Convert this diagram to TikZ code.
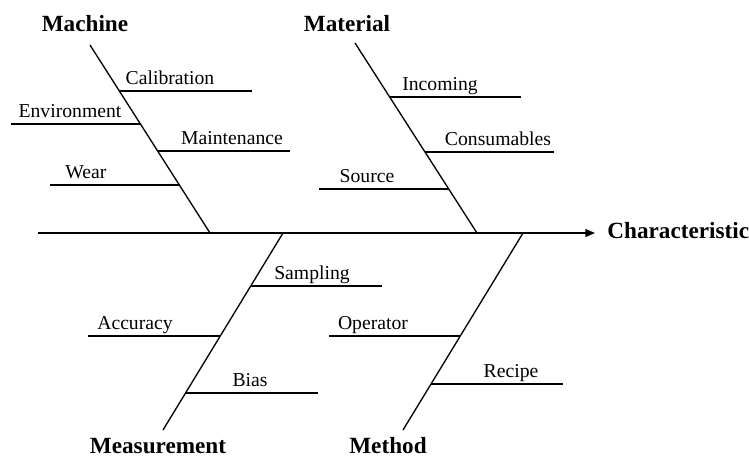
\documentclass[tikz,border=0pt]{standalone}
\usepackage{fontspec}
\setmainfont{Liberation Serif}
\usetikzlibrary{arrows.meta}
\begin{document}
\begin{tikzpicture}
        [x=0.2mm, y=-0.2mm,
        cause/.style={anchor=base, inner sep=0pt, font=\fontsize{11.2}{13}\selectfont},
        category/.style={anchor=base, inner sep=0pt, font=\fontsize{13.2}{15}\selectfont\bfseries},
        bone/.style={line width=0.75pt, black},
        rib/.style={line width=0.75pt, black},
        spine/.style={line width=0.75pt, black, -{Triangle[length=5.5pt, width=4.5pt]}}]

        \useasboundingbox (0,0) rectangle (749,456);

        % Category labels
        \node[category] (machine) at (85,31) {Machine};
        \node[category] (material) at (347,31) {Material};
        \node[category] (measurement) at (158,453) {Measurement};
        \node[category] (method) at (388,453) {Method};
        \node[category, anchor=base west] (charac) at (607,238) {Characteristic};

        % Spine
        \coordinate (tail) at (38,233);
        \coordinate (head) at (595,233);
        \draw[spine] (tail) -- (head);

        % Bone ends (top/bottom)
        \coordinate (machineT) at (90,45);
        \coordinate (machineB) at (210,233);
        \coordinate (materialT) at (355,43);
        \coordinate (materialB) at (477,233);
        \coordinate (measureT) at (283,233);
        \coordinate (measureB) at (163,430);
        \coordinate (methodT) at (523,233);
        \coordinate (methodB) at (403,430);

        \draw[bone] (machineT) -- (machineB);
        \draw[bone] (materialT) -- (materialB);
        \draw[bone] (measureT) -- (measureB);
        \draw[bone] (methodT) -- (methodB);

        % Machine causes
        \coordinate (calibA) at (120,91);   \coordinate (calibB) at (252,91);
        \coordinate (enviroA) at (11,124);  \coordinate (enviroB) at (141,124);
        \coordinate (maintA) at (158,151);  \coordinate (maintB) at (290,151);
        \coordinate (wearA) at (50,185);    \coordinate (wearB) at (180,185);
        \draw[rib] (calibA) -- (calibB);
        \draw[rib] (enviroA) -- (enviroB);
        \draw[rib] (maintA) -- (maintB);
        \draw[rib] (wearA) -- (wearB);
        \node[cause] (calib) at (170,84) {Calibration};
        \node[cause] (enviro) at (70,117) {Environment};
        \node[cause] (maint) at (232,144) {Maintenance};
        \node[cause] (wear) at (86,178) {Wear};

        % Material causes
        \coordinate (incomA) at (390,97);   \coordinate (incomB) at (521,97);
        \coordinate (consA) at (425,152);   \coordinate (consB) at (554,152);
        \coordinate (sourceA) at (319,189); \coordinate (sourceB) at (449,189);
        \draw[rib] (incomA) -- (incomB);
        \draw[rib] (consA) -- (consB);
        \draw[rib] (sourceA) -- (sourceB);
        \node[cause] (incom) at (440,90) {Incoming};
        \node[cause] (cons) at (498,145) {Consumables};
        \node[cause] (source) at (367,182) {Source};

        % Measurement causes
        \coordinate (sampA) at (251,286);   \coordinate (sampB) at (382,286);
        \coordinate (accurA) at (88,336);   \coordinate (accurB) at (220,336);
        \coordinate (biasA) at (186,393);   \coordinate (biasB) at (318,393);
        \draw[rib] (sampA) -- (sampB);
        \draw[rib] (accurA) -- (accurB);
        \draw[rib] (biasA) -- (biasB);
        \node[cause] (samp) at (312,279) {Sampling};
        \node[cause] (accur) at (135,329) {Accuracy};
        \node[cause] (bias) at (250,386) {Bias};

        % Method causes
        \coordinate (operA) at (329,336);   \coordinate (operB) at (460,336);
        \coordinate (recipeA) at (431,384); \coordinate (recipeB) at (563,384);
        \draw[rib] (operA) -- (operB);
        \draw[rib] (recipeA) -- (recipeB);
        \node[cause] (oper) at (373,329) {Operator};
        \node[cause] (recipe) at (511,377) {Recipe};

    \end{tikzpicture}
\end{document}
